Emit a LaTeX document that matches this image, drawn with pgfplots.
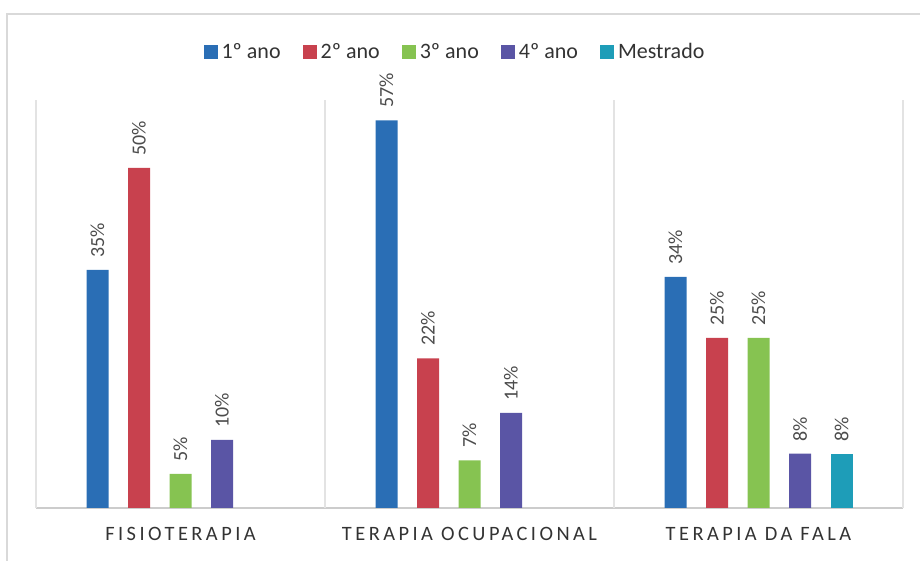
\documentclass[border=0pt]{standalone}
\usepackage{fontspec}
\setmainfont{Carlito}
\newfontfamily\catfont[LetterSpace=17]{Carlito}
\usepackage{pgfplots}
\pgfplotsset{compat=1.18}
\definecolor{cA}{HTML}{2A6EB5}
\definecolor{cB}{HTML}{C8414E}
\definecolor{cC}{HTML}{86C351}
\definecolor{cD}{HTML}{5A55A5}
\definecolor{cE}{HTML}{1E9DB8}
\begin{document}
\begin{tikzpicture}
\useasboundingbox (0,0) rectangle (460pt,280.5pt);
\draw[gray!30, line width=0.6pt] (3.5pt,0) -- (3.5pt,273.5pt) -- (460pt,273.5pt);
\begin{axis}[
  at={(18pt,26.5pt)}, anchor=south west,
  scale only axis, width=433.5pt, height=204pt,
  ymin=0, ymax=60, xmin=-0.5, xmax=2.5,
  ybar, bar width=11pt,
  /pgf/number format/assume math mode=true,
  axis x line*=bottom, axis y line=none,
  x axis line style={-, draw=gray!40, line width=0.6pt},
  xtick={0,1,2},
  xticklabels={FISIOTERAPIA, TERAPIA OCUPACIONAL, TERAPIA DA FALA},
  xticklabel style={font=\catfont\fontsize{10.2}{12}\selectfont, text=black!80, yshift=-6pt},
  major tick length=0pt,
  extra x ticks={-0.5,0.5,1.5,2.5},
  extra x tick labels={},
  extra x tick style={grid=major, major grid style={gray!22, line width=0.6pt}},
  nodes near coords={\pgfmathprintnumber{\pgfplotspointmeta}\%},
  every node near coord/.append style={rotate=90, anchor=west, font=\fontsize{10}{12}\selectfont, text=black!70, inner xsep=6pt, inner ysep=0pt},
  legend columns=5,
  legend style={at={(0.4844,1.1176)}, anchor=center, draw=none, fill=none,
    font=\fontsize{11}{13}\selectfont, text=black!80,
    /tikz/every even column/.append style={column sep=9pt}},
  legend image code/.code={\fill[#1,draw=none] (0pt,-3.3pt) rectangle (7pt,3.7pt);},
]
\addplot[fill=cA, draw=none, bar shift=-41.5pt] coordinates {(0,35) (1,57) (2,34)};
\addplot[fill=cB, draw=none, bar shift=-20.75pt] coordinates {(0,50) (1,22) (2,25)};
\addplot[fill=cC, draw=none, bar shift=0pt] coordinates {(0,5) (1,7) (2,25)};
\addplot[fill=cD, draw=none, bar shift=20.75pt] coordinates {(0,10) (1,14) (2,8)};
\addplot[fill=cE, draw=none, bar shift=41.5pt] coordinates {(2,8)};
\legend{1º ano, 2º ano, 3º ano, 4º ano, Mestrado}
\end{axis}
\end{tikzpicture}
\end{document}
